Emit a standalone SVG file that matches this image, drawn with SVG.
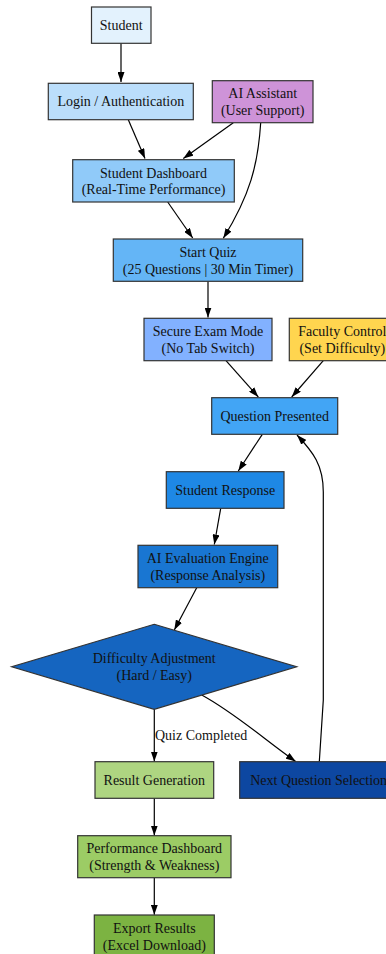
<svg xmlns="http://www.w3.org/2000/svg" width="386" height="954" viewBox="0 0 386 954">
<style>
.n{stroke:#333;stroke-width:1.2}
text{font-family:'Liberation Serif','Times New Roman','DejaVu Serif',serif;font-size:14px;fill:#111;text-anchor:middle}
.e{fill:none;stroke:#000;stroke-width:1.2}
</style>
<defs>
<marker id="a" markerWidth="10" markerHeight="7" refX="10" refY="3.5" orient="auto" markerUnits="userSpaceOnUse">
<path d="M0,0 L10,3.5 L0,7 z" fill="#000"/>
</marker>
</defs>
<rect width="386" height="954" fill="#fff"/>
<g id="edges">
<path class="e" d="M121,43.3 L121,82" marker-end="url(#a)"/>
<path class="e" d="M128.3,119.7 L145,158.5" marker-end="url(#a)"/>
<path class="e" d="M233.3,122.7 L183.3,158.5" marker-end="url(#a)"/>
<path class="e" d="M260.7,122.7 C258,165 250,195 223.3,238.3" marker-end="url(#a)"/>
<path class="e" d="M167.7,202 L192.7,238" marker-end="url(#a)"/>
<path class="e" d="M208,281.3 L208,317.5" marker-end="url(#a)"/>
<path class="e" d="M226,360.7 L258.3,397" marker-end="url(#a)"/>
<path class="e" d="M323.3,360.7 L291.7,397" marker-end="url(#a)"/>
<path class="e" d="M262.3,434.3 L238.3,471" marker-end="url(#a)"/>
<path class="e" d="M220.7,508.3 L214.3,544.5" marker-end="url(#a)"/>
<path class="e" d="M196.7,587.7 L174.3,630" marker-end="url(#a)"/>
<path class="e" d="M154.3,709.3 L154.3,761.5" marker-end="url(#a)"/>
<path class="e" d="M201.7,695 C235,713 265,740 295.7,761.5" marker-end="url(#a)"/>
<path class="e" d="M319.3,761.7 L323.3,700 L323.3,492 C323.3,465 313,452 297,435" marker-end="url(#a)"/>
<path class="e" d="M154.3,798.3 L154.3,835.5" marker-end="url(#a)"/>
<path class="e" d="M154.3,877.7 L154.3,914.8" marker-end="url(#a)"/>
<text x="155" y="740" text-anchor="start" style="text-anchor:start">Quiz Completed</text>
</g>
<g id="student"><rect class="n" x="91.5" y="7" width="59.5" height="36.3" fill="#E3F2FD"/><text x="121.2" y="30">Student</text></g>
<g id="login"><rect class="n" x="48.3" y="83.3" width="145" height="36.4" fill="#BBDEFB"/><text x="120.8" y="106">Login / Authentication</text></g>
<g id="assistant"><rect class="n" x="212.3" y="80.7" width="100.7" height="42" fill="#CE93D8"/><text x="262.7" y="98">AI Assistant</text><text x="262.7" y="115">(User Support)</text></g>
<g id="dashboard"><rect class="n" x="72.7" y="159.7" width="161.6" height="42.3" fill="#90CAF9"/><text x="153.5" y="177.5">Student Dashboard</text><text x="153.5" y="194">(Real-Time Performance)</text></g>
<g id="startquiz"><rect class="n" x="113.3" y="239" width="189.4" height="42.3" fill="#64B5F6"/><text x="208" y="256.5">Start Quiz</text><text x="208" y="274">(25 Questions | 30 Min Timer)</text></g>
<g id="secure"><rect class="n" x="144" y="318.3" width="128" height="42.4" fill="#82B1FF"/><text x="208" y="336">Secure Exam Mode</text><text x="208" y="352.5">(No Tab Switch)</text></g>
<g id="faculty"><rect class="n" x="289.3" y="318.3" width="106" height="42.4" fill="#FFD54F"/><text x="342.3" y="336">Faculty Control</text><text x="342.3" y="352.5">(Set Difficulty)</text></g>
<g id="question"><rect class="n" x="211.7" y="397.7" width="126" height="36.6" fill="#42A5F5"/><text x="274.7" y="420.5">Question Presented</text></g>
<g id="response"><rect class="n" x="166.3" y="471.7" width="117.7" height="36.6" fill="#1E88E5"/><text x="225.2" y="494.5">Student Response</text></g>
<g id="evaluation"><rect class="n" x="138" y="545.3" width="139.7" height="42.4" fill="#1976D2"/><text x="207.8" y="562.5">AI Evaluation Engine</text><text x="207.8" y="579.5">(Response Analysis)</text></g>
<g id="difficulty"><polygon class="n" points="154.2,624.3 296.7,666.8 154.2,709.3 11.7,666.8" fill="#1565C0"/><text x="154.2" y="663">Difficulty Adjustment</text><text x="154.2" y="679.5">(Hard / Easy)</text></g>
<g id="result"><rect class="n" x="95" y="761.7" width="118.7" height="36.6" fill="#AED581"/><text x="154.3" y="784.5">Result Generation</text></g>
<g id="nextq"><rect class="n" x="239.7" y="761.7" width="158" height="36.6" fill="#0D47A1"/><text x="318.7" y="784.5">Next Question Selection</text></g>
<g id="perf"><rect class="n" x="77.7" y="835.7" width="153.3" height="42" fill="#9CCC65"/><text x="154.3" y="853">Performance Dashboard</text><text x="154.3" y="869.5">(Strength &amp; Weakness)</text></g>
<g id="export"><rect class="n" x="94.3" y="915" width="120" height="42" fill="#7CB342"/><text x="154.3" y="933">Export Results</text><text x="154.3" y="949.5">(Excel Download)</text></g>
</svg>
